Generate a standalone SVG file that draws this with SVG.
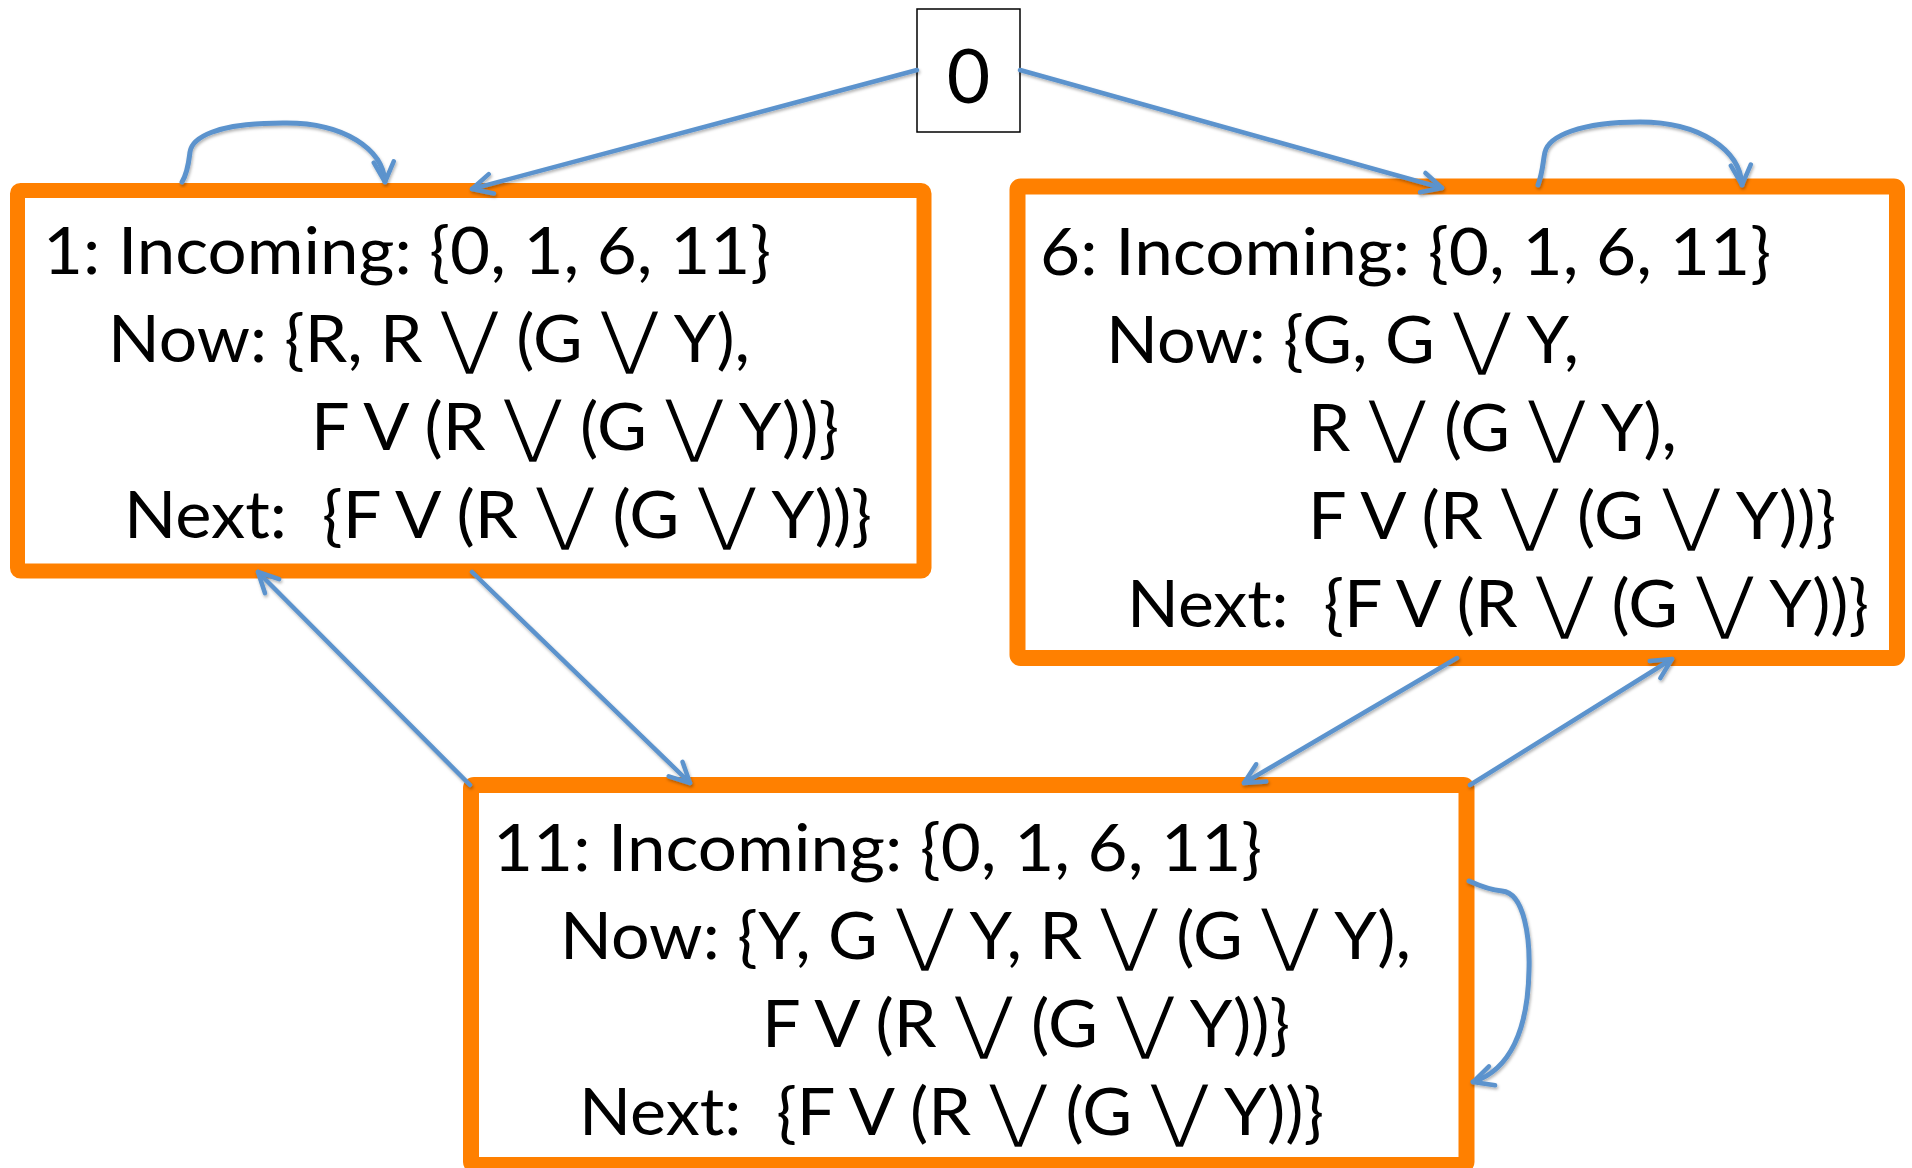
<svg xmlns="http://www.w3.org/2000/svg" width="1912" height="1168" viewBox="0 0 1912 1168">
<style>
.box{fill:#fff;stroke:#FF8000;stroke-width:16;}
.t{font-family:Lato,"Open Sans","Liberation Sans",sans-serif;font-size:66px;fill:#000;white-space:pre;}
.or{font-family:"DejaVu Sans",sans-serif;font-size:70px;stroke:#fff;stroke-width:1.5px;}
.c{fill:none;stroke:#5B93CD;stroke-width:4.5;stroke-linecap:round;filter:url(#sh);}
.loop{stroke-width:5;}
</style>
<defs>
<filter id="sh" x="-10%" y="-10%" width="120%" height="120%">
<feDropShadow dx="1" dy="2" stdDeviation="1.5" flood-color="#000" flood-opacity="0.3"/>
</filter>
<marker id="ah" viewBox="0 0 26 26" refX="23" refY="13" markerWidth="26" markerHeight="26" markerUnits="userSpaceOnUse" orient="auto">
<path d="M3,3 L23,13 L3,23" fill="none" stroke="#5B93CD" stroke-width="4.5" stroke-linecap="round" stroke-linejoin="round"/>
</marker>
</defs>
<rect width="1912" height="1168" fill="#fff"/>
<g id="node0">
<rect x="917" y="9" width="103" height="123" fill="#fff" stroke="#000" stroke-width="1.5"/>
<text x="968.5" y="103" text-anchor="middle" class="t" style="font-size:75px">0</text>
</g>
<g id="node1">
<rect class="box" x="17.5" y="190.5" width="906.5" height="380.5" rx="3" style="stroke-width:15"/>
<text xml:space="preserve" class="t" x="43" y="274" textLength="728" lengthAdjust="spacingAndGlyphs">1: Incoming: {0, 1, 6, 11}</text>
<text xml:space="preserve" class="t" x="108" y="362" textLength="642" lengthAdjust="spacingAndGlyphs">Now: {R, R <tspan class="or" baseline-shift="1">⋁</tspan> (G <tspan class="or" baseline-shift="1">⋁</tspan> Y),</text>
<text xml:space="preserve" class="t" x="311" y="450" textLength="528" lengthAdjust="spacingAndGlyphs">F V (R <tspan class="or" baseline-shift="1">⋁</tspan> (G <tspan class="or" baseline-shift="1">⋁</tspan> Y))}</text>
<text xml:space="preserve" class="t" x="124" y="538" textLength="748" lengthAdjust="spacingAndGlyphs">Next:  {F V (R <tspan class="or" baseline-shift="1">⋁</tspan> (G <tspan class="or" baseline-shift="1">⋁</tspan> Y))}</text>
</g>
<g id="node6">
<rect class="box" x="1017.5" y="186.5" width="879.5" height="471.5" rx="3"/>
<text xml:space="preserve" class="t" x="1040" y="275" textLength="731" lengthAdjust="spacingAndGlyphs">6: Incoming: {0, 1, 6, 11}</text>
<text xml:space="preserve" class="t" x="1106" y="363" textLength="473" lengthAdjust="spacingAndGlyphs">Now: {G, G <tspan class="or" baseline-shift="1">⋁</tspan> Y,</text>
<text xml:space="preserve" class="t" x="1308" y="451" textLength="369" lengthAdjust="spacingAndGlyphs">R <tspan class="or" baseline-shift="1">⋁</tspan> (G <tspan class="or" baseline-shift="1">⋁</tspan> Y),</text>
<text xml:space="preserve" class="t" x="1308" y="539" textLength="528" lengthAdjust="spacingAndGlyphs">F V (R <tspan class="or" baseline-shift="1">⋁</tspan> (G <tspan class="or" baseline-shift="1">⋁</tspan> Y))}</text>
<text xml:space="preserve" class="t" x="1127" y="627" textLength="742" lengthAdjust="spacingAndGlyphs">Next:  {F V (R <tspan class="or" baseline-shift="1">⋁</tspan> (G <tspan class="or" baseline-shift="1">⋁</tspan> Y))}</text>
</g>
<g id="node11">
<rect class="box" x="471" y="785" width="995.5" height="380" rx="3"/>
<text xml:space="preserve" class="t" x="493" y="871" textLength="769" lengthAdjust="spacingAndGlyphs">11: Incoming: {0, 1, 6, 11}</text>
<text xml:space="preserve" class="t" x="560" y="959" textLength="851" lengthAdjust="spacingAndGlyphs">Now: {Y, G <tspan class="or" baseline-shift="1">⋁</tspan> Y, R <tspan class="or" baseline-shift="1">⋁</tspan> (G <tspan class="or" baseline-shift="1">⋁</tspan> Y),</text>
<text xml:space="preserve" class="t" x="762" y="1047" textLength="528" lengthAdjust="spacingAndGlyphs">F V (R <tspan class="or" baseline-shift="1">⋁</tspan> (G <tspan class="or" baseline-shift="1">⋁</tspan> Y))}</text>
<text xml:space="preserve" class="t" x="579" y="1135" textLength="745" lengthAdjust="spacingAndGlyphs">Next:  {F V (R <tspan class="or" baseline-shift="1">⋁</tspan> (G <tspan class="or" baseline-shift="1">⋁</tspan> Y))}</text>
</g>
<g id="connectors">
<path class="c" d="M917,70 L472,189" marker-end="url(#ah)"/>
<path class="c" d="M1020,70 L1442,188" marker-end="url(#ah)"/>
<path class="c" d="M969,132 L969,784" marker-end="url(#ah)"/>
<path class="c loop" d="M182,182 C188,172 189,160 190,152 C192,138 215,123 283,123 C345,122 383,150 385,182" marker-end="url(#ah)"/>
<path class="c loop" d="M1538,185 C1543,172 1543,160 1545,152 C1549,136 1580,122 1640,122 C1700,122 1740,150 1742,185" marker-end="url(#ah)"/>
<path class="c" d="M923,381 L1016,381" marker-end="url(#ah)"/>
<path class="c" d="M1017,422 L918,422" marker-end="url(#ah)"/>
<path class="c" d="M470,785 L258,572" marker-end="url(#ah)"/>
<path class="c" d="M472,572 L690,783" marker-end="url(#ah)"/>
<path class="c" d="M1457,658 L1244,783" marker-end="url(#ah)"/>
<path class="c" d="M1470,785 L1672,659" marker-end="url(#ah)"/>
<path class="c loop" d="M1469,881 C1480,886 1490,890 1502,891 C1525,893 1530,940 1529,970 C1528,1030 1510,1070 1473,1082" marker-end="url(#ah)"/>
</g>
</svg>
